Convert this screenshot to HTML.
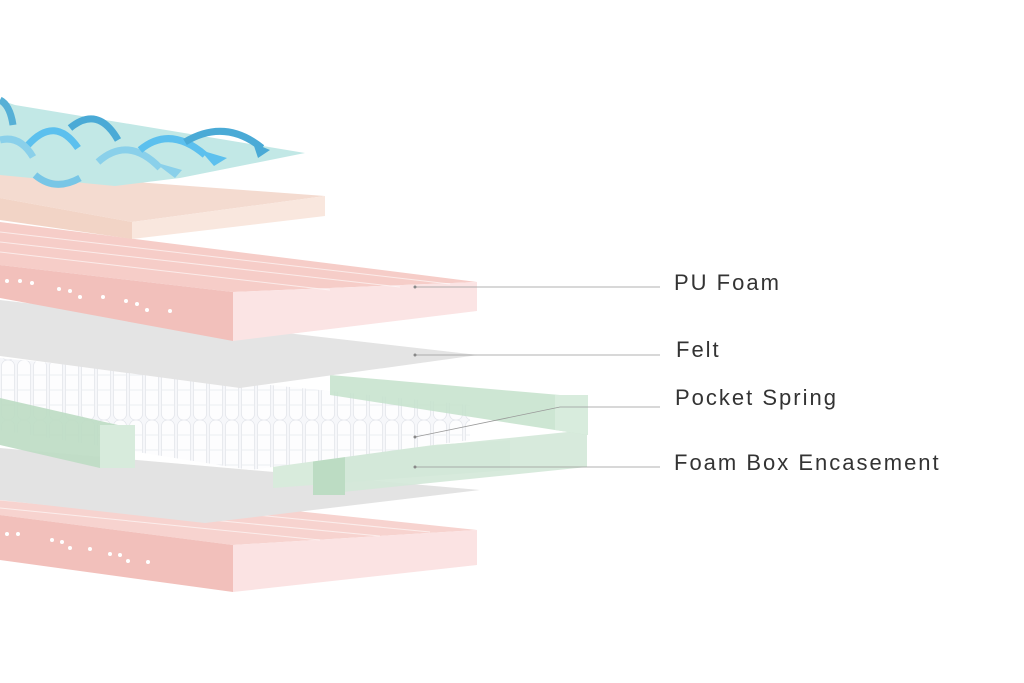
<!DOCTYPE html>
<html><head><meta charset="utf-8"><style>
html,body{margin:0;padding:0;background:#fff;}
.w{position:relative;width:1024px;height:683px;overflow:hidden;}
.t{position:absolute;font-family:"Liberation Sans",sans-serif;font-size:22px;color:#333;letter-spacing:2px;}
</style></head><body><div class="w">
<svg width="1024" height="683" style="position:absolute;left:0;top:0">
<defs>
<pattern id="sp" x="0" y="0" width="16" height="60" patternUnits="userSpaceOnUse">
<rect x="0" y="0" width="16" height="60" fill="#f6f7fa"/>
<rect x="1.5" y="0" width="13" height="60" rx="6" fill="#fdfdfe" stroke="#e4e6ec" stroke-width="0.8"/>
<line x1="2" y1="15" x2="14" y2="15" stroke="#eceef3"/>
<line x1="2" y1="30" x2="14" y2="30" stroke="#eceef3"/>
<line x1="2" y1="45" x2="14" y2="45" stroke="#eceef3"/>
</pattern>
</defs>
<!-- bottom pink slab -->
<polygon points="0,480 477,530 233,545 0,515" fill="#f7d3cf"/>
<polygon points="0,515 233,545 233,592 0,560" fill="#f2c0bb"/>
<polygon points="233,545 477,530 477,565 233,592" fill="#fbe3e3"/>
<g stroke="#fff" stroke-width="1" opacity="0.6">
<line x1="0" y1="490" x2="430" y2="532"/><line x1="0" y1="500" x2="380" y2="536"/><line x1="0" y1="508" x2="320" y2="540"/>
</g>
<g fill="#fff"><circle cx="7" cy="534" r="2"/><circle cx="18" cy="534" r="2"/><circle cx="52" cy="540" r="2"/><circle cx="62" cy="542" r="2"/><circle cx="70" cy="548" r="2"/><circle cx="90" cy="549" r="2"/><circle cx="110" cy="554" r="2"/><circle cx="120" cy="555" r="2"/><circle cx="128" cy="561" r="2"/><circle cx="148" cy="562" r="2"/></g>
<!-- bottom felt -->
<polygon points="0,448 480,490 205,523 0,500" fill="#e3e3e3"/>
<!-- front right green -->
<polygon points="273,455 510,440 510,470 273,488" fill="#d8ebdc"/>
<polygon points="313,458 587,430 587,467 313,495" fill="#d3e8d8" opacity="0.9"/>
<polygon points="313,458 345,455 345,495 313,495" fill="#bcdcc3"/>
<!-- springs -->
<polygon points="0,358 470,405 470,440 250,470 0,430" fill="url(#sp)"/>
<!-- back right green -->
<polygon points="330,375 560,395 588,395 588,435 555,430 330,395" fill="#c4e2cb" opacity="0.85"/>
<polygon points="555,395 588,395 588,435 555,430" fill="#d8ecdd"/>
<!-- left green -->
<polygon points="0,398 118,425 135,425 135,468 100,468 0,445" fill="#bcdcc3" opacity="0.9"/>
<polygon points="100,425 135,425 135,468 100,468" fill="#d7ebdc"/>
<!-- top felt -->
<polygon points="0,300 478,355 240,388 0,356" fill="#e4e4e4"/>
<!-- pink slab 1 -->
<polygon points="0,222 477,282 233,292 0,265" fill="#f6cdc8"/>
<polygon points="0,265 233,292 233,341 0,298" fill="#f2c0bb"/>
<polygon points="233,292 477,282 477,311 233,341" fill="#fbe4e4"/>
<g stroke="#fff" stroke-width="1" opacity="0.6">
<line x1="0" y1="232" x2="450" y2="284"/><line x1="0" y1="242" x2="400" y2="287"/><line x1="0" y1="252" x2="330" y2="290"/>
</g>
<g fill="#fff"><circle cx="7" cy="281" r="2"/><circle cx="20" cy="281" r="2"/><circle cx="32" cy="283" r="2"/><circle cx="59" cy="289" r="2"/><circle cx="70" cy="291" r="2"/><circle cx="80" cy="297" r="2"/><circle cx="103" cy="297" r="2"/><circle cx="126" cy="301" r="2"/><circle cx="137" cy="304" r="2"/><circle cx="147" cy="310" r="2"/><circle cx="170" cy="311" r="2"/></g>
<!-- peach slab -->
<polygon points="0,172 325,196 132,222 0,198" fill="#f4dbd0"/>
<polygon points="0,198 132,222 132,239 0,220" fill="#f2d4c6"/>
<polygon points="132,222 325,196 325,216 132,239" fill="#f9e7de"/>
<!-- cyan layer -->
<polygon points="15,105 305,153 180,178 115,186 0,175 0,100" fill="#c2e8e6"/>
<!-- arrows -->
<g fill="none" stroke-width="7" stroke-linecap="butt">
<path d="M0,100 Q10,105 13,125" stroke="#56b0d6"/>
<path d="M28,145 Q55,115 78,148" stroke="#5cc0ee"/>
<path d="M70,128 Q98,105 118,140" stroke="#4aaad6"/>
<path d="M98,162 Q128,135 160,168" stroke="#8ad0ea"/>
<path d="M140,150 Q170,125 205,155" stroke="#5cc0ee"/>
<path d="M185,142 Q225,118 262,148" stroke="#4aaad6"/>
<path d="M0,140 Q20,135 33,157" stroke="#8ad0ea"/>
<path d="M35,175 Q55,192 80,178" stroke="#78c6e6"/>
</g>
<g>
<polygon points="253,143 270,150 258,158" fill="#4aaad6"/>
<polygon points="200,150 227,158 214,166" fill="#5cc0ee"/>
<polygon points="154,162 182,170 175,178" fill="#8ad0ea"/>
</g>
<!-- leader lines -->
<g stroke="#999" stroke-width="0.8" fill="none">
<line x1="415" y1="287" x2="660" y2="287"/>
<line x1="415" y1="355" x2="660" y2="355"/>
<polyline points="415,437 560,407 660,407"/>
<line x1="415" y1="467" x2="660" y2="467"/>
</g>
<g fill="#888"><circle cx="415" cy="287" r="1.5"/><circle cx="415" cy="355" r="1.5"/><circle cx="415" cy="437" r="1.5"/><circle cx="415" cy="467" r="1.5"/></g>
</svg>
<div class="t" style="left:674px;top:270px">PU Foam</div>
<div class="t" style="left:676px;top:337px">Felt</div>
<div class="t" style="left:675px;top:385px">Pocket Spring</div>
<div class="t" style="left:674px;top:450px">Foam Box Encasement</div>
</div></body></html>
